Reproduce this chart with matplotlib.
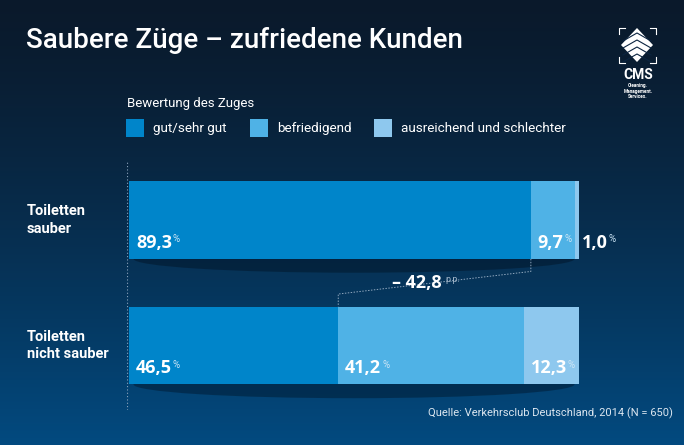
import numpy as np
import matplotlib
matplotlib.use("Agg")
import matplotlib.pyplot as plt
from matplotlib.patches import Ellipse, Polygon, Rectangle
from matplotlib.lines import Line2D

# --- data -------------------------------------------------------------
categories = ["Toiletten\nsauber", "Toiletten\nnicht sauber"]
series = ["gut/sehr gut", "befriedigend", "ausreichend und schlechter"]
values = [
    [89.3, 9.7, 1.0],    # Toiletten sauber
    [46.5, 41.2, 12.3],  # Toiletten nicht sauber
]
colors = ["#0085ca", "#4fb2e6", "#8ec8ee"]
title = "Saubere Züge – zufriedene Kunden"
legend_title = "Bewertung des Zuges"
source = "Quelle: Verkehrsclub Deutschland, 2014 (N = 650)"

W, H = 684, 445
plt.rcParams['font.family'] = ['Roboto', 'DejaVu Sans']


def px(x, y):
    return x / W, 1 - y / H


def fmt(v):
    return f"{v:.1f}".replace(".", ",")


fig = plt.figure(figsize=(W / 100, H / 100), dpi=100)

# background gradient
bg = fig.add_axes([0, 0, 1, 1], zorder=-10)
top = np.array([0.04, 0.10, 0.17])
bot = np.array([0.01, 0.29, 0.50])
t = np.linspace(0, 1, 256)[:, None, None]
grad = top + (bot - top) * t ** 1.3
grad = np.repeat(grad, 2, axis=1)
bg.imshow(grad, aspect='auto', extent=[0, 1, 0, 1], origin='upper')
bg.set_xlim(0, 1)
bg.set_ylim(0, 1)
bg.axis('off')

# title
fig.text(*px(26, 40), title, color='white', fontsize=20, va='center', fontweight='medium')

# logo (decoration)
cx, cy = 637, 45
dia = Polygon([px(cx, cy - 17), px(cx + 16, cy), px(cx, cy + 17), px(cx - 16, cy)],
              closed=True, fc='white', ec='none', transform=fig.transFigure)
fig.add_artist(dia)
for k in range(1, 5):
    yy = cy - 17 + k * 7
    fig.add_artist(Line2D([px(cx - 14, yy + 6)[0], px(cx, yy - 2)[0], px(cx + 14, yy + 6)[0]],
                          [px(cx - 14, yy + 6)[1], px(cx, yy - 2)[1], px(cx + 14, yy + 6)[1]],
                          color='#0b2440', lw=0.8, transform=fig.transFigure))
for (x0, y0, dx, dy) in [(619, 28, 1, 1), (656, 28, -1, 1), (619, 63, 1, -1), (656, 63, -1, -1)]:
    fig.add_artist(Line2D([px(x0 + dx * 6, y0)[0], px(x0, y0)[0], px(x0, y0 + dy * 6)[0]],
                          [px(x0 + dx * 6, y0)[1], px(x0, y0)[1], px(x0, y0 + dy * 6)[1]],
                          color='white', lw=0.8, transform=fig.transFigure))
fig.text(*px(638, 75), "CMS", color='white', fontsize=10, fontweight='bold', ha='center', va='center')
fig.text(*px(638, 91), "Cleaning.\nManagement.\nServices.", color='white', fontsize=3.4,
         fontweight='bold', ha='center', va='center', linespacing=1.1)

# legend
fig.text(*px(127, 103), legend_title, color='white', fontsize=9.5, va='center')
leg_x = [126, 250, 374]
for lx, lab, c in zip(leg_x, series, colors):
    fig.add_artist(Rectangle(px(lx, 137), 18 / W, 18 / H, fc=c, ec='none', transform=fig.transFigure))
    fig.text(*px(lx + 27, 128), lab, color='white', fontsize=9.7, va='center')

# bars
ax = fig.add_axes([127 / W, 35 / H, 452 / W, 250 / H])
ax.set_xlim(-0.45, 100)
ax.set_ylim(1.514, -0.478)
ax.axis('off')
ypos = np.arange(len(categories))
h = 0.62
ax.axvline(-0.45, color='#8fa6bd', lw=0.8, ls=(0, (1, 2)), zorder=0)

for i, row in enumerate(values):
    sh = Ellipse((50, ypos[i] + h / 2), 98, 0.22, fc='#000814', ec='none', alpha=0.35, zorder=1)
    ax.add_patch(sh)
    left = 0
    for j, v in enumerate(row):
        ax.barh(ypos[i], v, left=left, height=h, color=colors[j], edgecolor='none', zorder=2)
        txt = ax.annotate(fmt(v), xy=(left, ypos[i] + h / 2), xytext=(5, 8), textcoords='offset points',
                          color='white', fontsize=13, fontweight='bold', va='baseline', ha='left', zorder=5,
                          family=['Open Sans', 'DejaVu Sans'])
        ax.annotate("%", xy=(1, 1), xycoords=txt, xytext=(0.5, -0.5), textcoords='offset points',
                    color='#cde6f6', fontsize=7, va='top', ha='left', zorder=5)
        left += v
    fig.text(27 / W, ax.transData.transform((0, ypos[i]))[1] / H, categories[i], color='white',
             fontsize=10.5, fontweight='bold', va='center', linespacing=1.3,
             transform=fig.transFigure)

# difference connector
x1, x2 = values[0][0], values[1][0]
yb1 = ypos[0] + h / 2
yt2 = ypos[1] - h / 2
ax.plot([x1, x1, x2, x2], [yb1, yb1 + 0.1, yt2 - 0.1, yt2], color='#8fa6bd', lw=0.7,
        ls=(0, (1.5, 1.5)), zorder=1)
diff = x2 - x1
dtxt = ax.annotate(f"– {fmt(abs(diff))}", xy=((x1 + x2) / 2 - 4, 0.5), color='white', fontsize=13,
                   fontweight='bold', va='center', ha='center', zorder=5,
                   family=['Open Sans', 'DejaVu Sans'])
ax.annotate("p.p.", xy=(1, 1), xycoords=dtxt, xytext=(3, -1), textcoords='offset points',
            color='#9fb4c8', fontsize=6.5, va='top', ha='left')

# source
fig.text(*px(673, 413), source, color='#dbe6f0', fontsize=8, ha='right', va='center')

fig.savefig("out.png", dpi=100)
